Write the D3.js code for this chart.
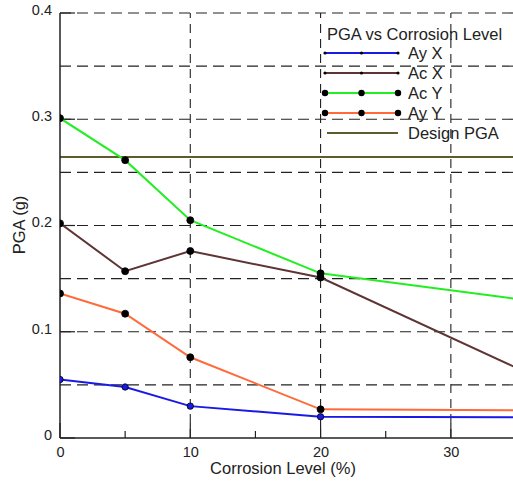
<!DOCTYPE html>
<html>
<head>
<meta charset="utf-8">
<script src="https://cdn.jsdelivr.net/npm/d3@7"></script>
<style>
  body { margin: 0; background: #fff; }
  text { font-family: "Liberation Sans", Arial, sans-serif; fill: #222; }
</style>
</head>
<body>
<script>
// corrosion levels (%) -- last point sits past the right edge
var corrosion = [0, 5, 10, 20, 40];
var ayX = [0.055, 0.048, 0.030, 0.020, 0.0195];
var acX = [0.202, 0.157, 0.176, 0.151, 0.038];
var acY = [0.301, 0.2615, 0.205, 0.155, 0.123];
var ayY = [0.136, 0.117, 0.076, 0.027, 0.0257];
var designPGA = 0.2645;
var xTicks = [0, 10, 20, 30];
var xMinor = [5, 15, 25];
var yTicks = [0, 0.1, 0.2, 0.3, 0.4];
var yGrid = [0.05, 0.1, 0.15, 0.2, 0.25, 0.3, 0.35, 0.4];

var series = [
    { name: 'Ay X', values: ayX, color: '#1a1ae6', r: 3.2, legendR: 1.6, markFill: '#1a1ae6' },
    { name: 'Ac X', values: acX, color: '#5e3434', r: 3.5, legendR: 1.6, markFill: '#000' },
    { name: 'Ac Y', values: acY, color: '#22ee22', r: 3.5, legendR: 3.2, markFill: '#000' },
    { name: 'Ay Y', values: ayY, color: '#ff6a3a', r: 3.5, legendR: 3.2, markFill: '#000' }
];

var width = 513, height = 482;
var margin = { top: 13, left: 60, bottom: 44 };
var plotRight = 516;
var tickFont = 14.5, labelFont = 16.5;

var svg = d3.select('body').append('svg')
    .attr('width', width)
    .attr('height', height);

var x = d3.scaleLinear().domain([0, 35]).range([margin.left, plotRight]);
var y = d3.scaleLinear().domain([0, 0.4]).range([height - margin.bottom, margin.top]);

svg.append('clipPath').attr('id', 'plot-clip')
    .append('rect')
    .attr('x', margin.left).attr('y', margin.top - 5)
    .attr('width', plotRight - margin.left).attr('height', y(0) - margin.top + 5);

// dashed grid
var grid = svg.append('g').attr('class', 'grid');
grid.selectAll('line.h').data(yGrid).enter().append('line')
    .attr('x1', margin.left).attr('x2', plotRight)
    .attr('y1', d => y(d)).attr('y2', d => y(d))
    .attr('stroke', '#222').attr('stroke-width', 1.1)
    .attr('stroke-dasharray', '11,6');
grid.selectAll('line.v').data(xTicks.slice(1)).enter().append('line')
    .attr('x1', d => x(d)).attr('x2', d => x(d))
    .attr('y1', y(0)).attr('y2', margin.top)
    .attr('stroke', '#222').attr('stroke-width', 1.1)
    .attr('stroke-dasharray', '9,6');

// design PGA
svg.append('line')
    .attr('x1', margin.left).attr('x2', plotRight)
    .attr('y1', y(designPGA)).attr('y2', y(designPGA))
    .attr('stroke', '#5c5c2c').attr('stroke-width', 2);

// axes
var xAxis = d3.axisBottom(x).tickValues(xTicks).tickSize(0).tickPadding(9);
var xAxisG = svg.append('g')
    .attr('transform', 'translate(0,' + y(0) + ')')
    .call(xAxis);
xAxisG.select('.domain').remove();
xAxisG.selectAll('text').attr('font-size', tickFont).style('font-family', '"Liberation Sans", Arial, sans-serif');

var yAxis = d3.axisLeft(y).tickValues(yTicks).tickSize(0).tickPadding(8)
    .tickFormat(d => d === 0 ? '0' : d3.format('.1f')(d));
var yAxisG = svg.append('g')
    .attr('transform', 'translate(' + margin.left + ',0)')
    .call(yAxis);
yAxisG.select('.domain').remove();
yAxisG.selectAll('text').attr('font-size', tickFont).attr('dy', '0.1em').style('font-family', '"Liberation Sans", Arial, sans-serif');

// inward ticks
var ticks = svg.append('g').attr('stroke', '#222').attr('stroke-width', 1.2);
xTicks.forEach(function (t) {
    ticks.append('line').attr('x1', x(t)).attr('x2', x(t)).attr('y1', y(0)).attr('y2', y(0) - 15);
});
xMinor.forEach(function (t) {
    ticks.append('line').attr('x1', x(t)).attr('x2', x(t)).attr('y1', y(0)).attr('y2', y(0) - 7);
});
yTicks.forEach(function (t) {
    ticks.append('line').attr('x1', margin.left).attr('x2', margin.left + 15).attr('y1', y(t)).attr('y2', y(t));
});

svg.append('line')
    .attr('x1', margin.left).attr('x2', margin.left)
    .attr('y1', margin.top).attr('y2', y(0))
    .attr('stroke', '#222').attr('stroke-width', 1.5);
svg.append('line')
    .attr('x1', margin.left).attr('x2', width)
    .attr('y1', y(0)).attr('y2', y(0))
    .attr('stroke', '#222').attr('stroke-width', 1.5);

// axis titles
svg.append('text')
    .attr('x', 283).attr('y', 474)
    .attr('text-anchor', 'middle').attr('font-size', labelFont)
    .text('Corrosion Level (%)');
svg.append('text')
    .attr('transform', 'translate(25,225) rotate(-90)')
    .attr('text-anchor', 'middle').attr('font-size', labelFont)
    .text('PGA (g)');

// series
var line = d3.line()
    .x((d, i) => x(corrosion[i]))
    .y(d => y(d));
var plot = svg.append('g').attr('clip-path', 'url(#plot-clip)');
series.forEach(function (s) {
    plot.append('path')
        .attr('d', line(s.values))
        .attr('fill', 'none')
        .attr('stroke', s.color)
        .attr('stroke-width', 2);
});
series.forEach(function (s) {
    plot.selectAll(null).data(s.values).enter().append('circle')
        .attr('cx', (d, i) => x(corrosion[i]))
        .attr('cy', d => y(d))
        .attr('r', s.r)
        .attr('fill', s.markFill)
        .attr('stroke', '#000')
        .attr('stroke-width', 0.8);
});

// legend
var legend = svg.append('g').attr('transform', 'translate(325,0)');
legend.append('text')
    .attr('x', 2).attr('y', 40)
    .attr('font-size', labelFont)
    .text('PGA vs Corrosion Level');
var rowY = [53, 73, 93, 113];
series.forEach(function (s, i) {
    var row = legend.append('g').attr('transform', 'translate(0,' + rowY[i] + ')');
    row.append('line').attr('x1', 0).attr('x2', 73)
        .attr('stroke', s.color).attr('stroke-width', 2);
    [0, 36.5, 73].forEach(function (px) {
        row.append('circle').attr('cx', px).attr('r', s.legendR).attr('fill', '#000');
    });
    row.append('text').attr('x', 83).attr('y', 6).attr('font-size', labelFont).text(s.name);
});
var dRow = legend.append('g').attr('transform', 'translate(0,133)');
dRow.append('line').attr('x1', 2).attr('x2', 73)
    .attr('stroke', '#5c5c2c').attr('stroke-width', 2);
dRow.append('text').attr('x', 83).attr('y', 6).attr('font-size', labelFont).text('Design PGA');
</script>
</body>
</html>
